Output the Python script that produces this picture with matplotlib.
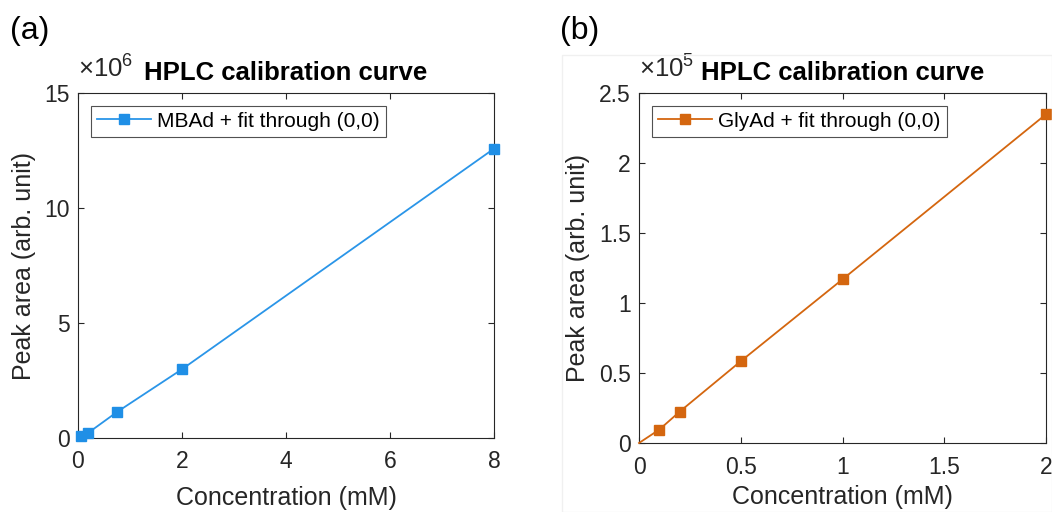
import matplotlib
matplotlib.use("Agg")
import matplotlib.pyplot as plt
from matplotlib.patches import Rectangle

plt.rcParams['font.family'] = ['Liberation Sans', 'DejaVu Sans']
plt.rcParams['mathtext.fontset'] = 'custom'
plt.rcParams['mathtext.rm'] = 'Liberation Sans'
plt.rcParams['mathtext.it'] = 'Liberation Sans'

# Panel (a): MBAd
conc_a = [0.05, 0.2, 0.75, 2, 8]
area_a = [0.10, 0.23, 1.13, 2.99, 12.58]   # x1e6
xticks_a = [0, 2, 4, 6, 8]
yticks_a = [0, 5, 10, 15]

# Panel (b): GlyAd
conc_b = [0, 0.1, 0.2, 0.5, 1, 2]
area_b = [0, 0.096, 0.224, 0.584, 1.169, 2.348]   # x1e5
xticks_b = [0, 0.5, 1, 1.5, 2]
yticks_b = [0, 0.5, 1, 1.5, 2, 2.5]

W, H = 1052, 512
fig = plt.figure(figsize=(W/100, H/100), dpi=100)

blue = '#2a95e8'
orange = '#d4660f'
axcol = '#262626'

def make_ax(l, r, t, b):
    return fig.add_axes([l/W, 1 - b/H, (r - l)/W, (b - t)/H])

# faint frame around panel b
fig.patches.append(Rectangle((562/W, 0), (W-562)/W, 1 - 55/H, transform=fig.transFigure,
                             fill=False, edgecolor='#f0f0f0', linewidth=1))

ax1 = make_ax(78, 494, 93, 438)
ax2 = make_ax(639, 1046, 93, 443)

def style(ax, xt, yt, xlabels, ylabels, xlim, ylim, exp, xlabelpad):
    ax.set_xlim(*xlim)
    ax.set_ylim(*ylim)
    ax.set_xticks(xt)
    ax.set_xticklabels(xlabels)
    ax.set_yticks(yt)
    ax.set_yticklabels(ylabels)
    ax.tick_params(direction='in', length=4, width=0.8, colors=axcol, labelsize=16.5,
                   top=True, right=True)
    ax.tick_params(axis='x', pad=9)
    ax.tick_params(axis='y', pad=6)
    for s in ax.spines.values():
        s.set_color(axcol)
        s.set_linewidth(0.8)
    ax.set_xlabel('Concentration (mM)', fontsize=18, color=axcol, labelpad=xlabelpad)
    ax.set_ylabel('Peak area (arb. unit)', fontsize=18, color=axcol, labelpad=6)
    ax.text(0.0, 1.03, r'$\times10^{%d}$' % exp, transform=ax.transAxes, fontsize=18.5,
            color=axcol, ha='left', va='bottom')
    ax.set_title('HPLC calibration curve', fontsize=18.5, fontweight='bold', pad=9, color='black')

ax1.plot(conc_a, area_a, '-s', color=blue, markersize=7.5, linewidth=1.3,
         markerfacecolor='#1f8fe6', markeredgecolor='#1f8fe6',
         label='MBAd + fit through (0,0)', clip_on=False, zorder=3)
style(ax1, xticks_a, yticks_a, [str(v) for v in xticks_a], [str(v) for v in yticks_a],
      (0, 8), (0, 15), 6, 9)

ax2.plot(conc_b, area_b, '-s', color=orange, markersize=7.5, linewidth=1.3,
         markevery=list(range(1, len(conc_b))),
         label='GlyAd + fit through (0,0)', clip_on=False, zorder=3)
style(ax2, xticks_b, yticks_b, ['0', '0.5', '1', '1.5', '2'], ['0', '0.5', '1', '1.5', '2', '2.5'],
      (0, 2), (0, 2.5), 5, 5)

for ax in (ax1, ax2):
    leg = ax.legend(loc='upper left', fontsize=15, frameon=True, fancybox=False,
                    borderpad=0.3, handlelength=2.6, handletextpad=0.3,
                    borderaxespad=0.6)
    leg.get_frame().set_edgecolor(axcol)
    leg.get_frame().set_linewidth(0.8)

fig.text(10/W, 1 - 31/H, '(a)', fontsize=23, va='center', ha='left', color='black')
fig.text(560/W, 1 - 31/H, '(b)', fontsize=23, va='center', ha='left', color='black')

fig.savefig('out.png', dpi=100)
